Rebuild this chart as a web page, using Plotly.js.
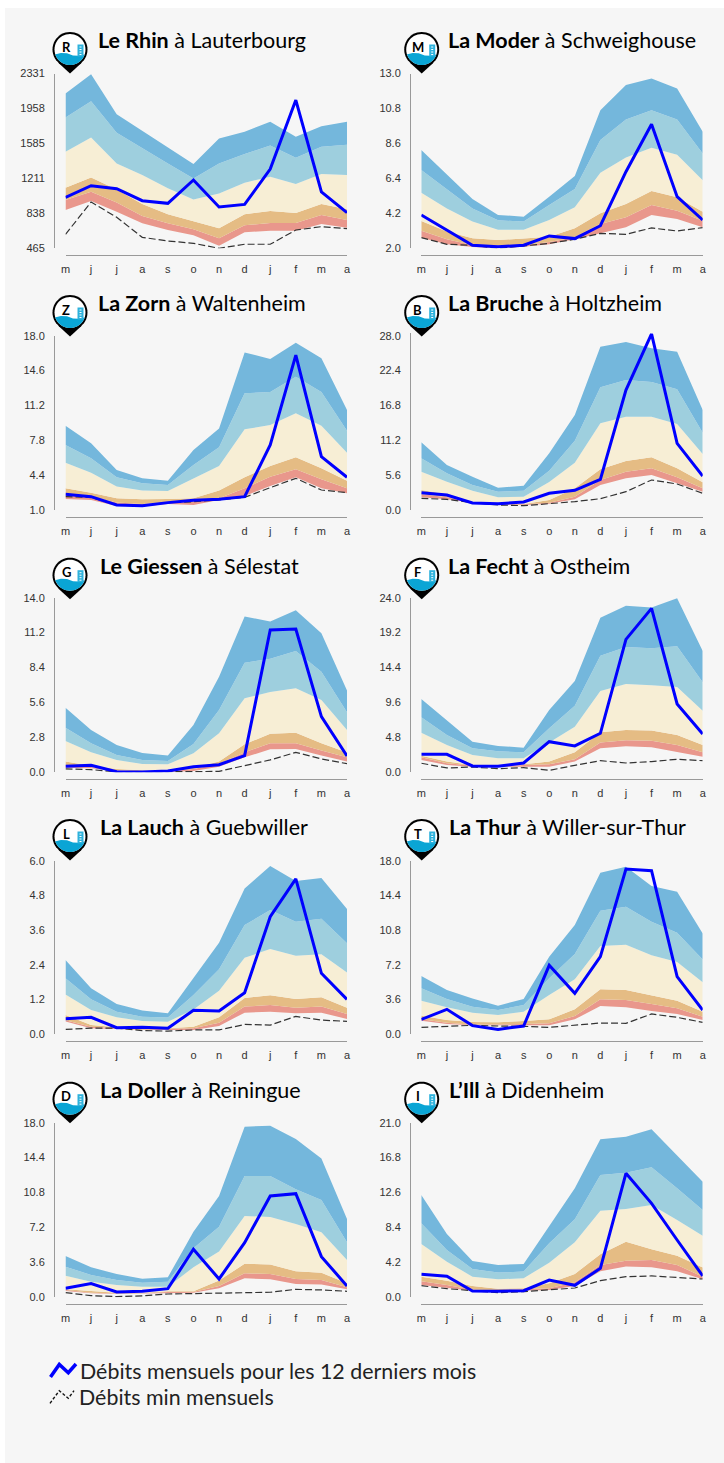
<!DOCTYPE html>
<html>
<head>
<meta charset="utf-8">
<script src="https://cdn.plot.ly/plotly-3.0.1.min.js"></script>
<style>html,body{margin:0;padding:0;background:#fff}#chart{width:724px;height:1463px}</style>
</head>
<body>
<div id="chart"></div>
<script>
const months = ['m','j','j','a','s','o','n','d','j','f','m','a'];

const rhinTicks = [465,838,1211,1585,1958,2331];
const rhinMax = [2118,2324,1897,1720,1542,1364,1638,1709,1816,1656,1769,1816];
const rhinHigh = [1862,2036,1698,1531,1371,1211,1371,1471,1563,1432,1549,1570];
const rhinMid = [1496,1648,1371,1247,1105,987,1051,1165,1229,1151,1258,1247];
const rhinLow = [1112,1222,1094,938,828,753,678,828,863,842,938,881];
const rhinLower = [980,1069,955,810,732,668,572,710,735,735,820,767];
const rhinBase = [874,970,856,732,660,604,493,636,653,653,724,685];
const rhinMin = [614,959,796,582,543,518,465,508,508,660,696,675];
const rhinFlow = [1009,1133,1101,973,945,1194,906,934,1311,2047,1066,845];

const moderTicks = [2.0,4.2,6.4,8.6,10.8,13.0];
const moderMax = [8.18,6.61,5.10,4.10,3.99,5.25,6.55,10.69,12.27,12.68,12.06,9.33];
const moderHigh = [6.92,5.71,4.51,3.76,3.68,4.72,5.73,8.81,10.11,10.69,10.11,7.97];
const moderMid = [5.50,4.51,3.68,3.17,3.17,3.78,4.58,6.76,7.72,8.33,7.89,6.29];
const moderLow = [3.72,3.05,2.63,2.52,2.61,2.73,3.26,4.20,4.79,5.60,5.21,4.30];
const moderLower = [3.11,2.57,2.21,2.15,2.19,2.40,2.69,3.53,3.95,4.72,4.37,3.74];
const moderBase = [2.67,2.25,2.08,2.0,2.10,2.25,2.57,2.94,3.32,4.10,3.84,3.32];
const moderMin = [2.67,2.25,2.19,2.0,2.15,2.31,2.57,2.94,2.88,3.28,3.09,3.30];
const moderFlow = [4.10,3.15,2.19,2.10,2.19,2.78,2.61,3.42,6.82,9.81,5.25,3.78];

const zornTicks = [1.0,4.4,7.8,11.2,14.6,18.0];
const zornMax = [9.22,7.5,4.9,4.09,3.86,6.85,8.96,16.37,15.72,17.32,15.79,10.75];
const zornHigh = [7.34,6.04,4.19,3.6,3.44,5.39,7.11,12.38,12.5,14.0,12.5,8.74];
const zornMid = [5.62,4.64,3.28,2.89,2.85,4.09,5.29,8.87,9.29,10.43,9.22,6.59];
const zornLow = [3.11,2.69,2.14,2.04,2.07,2.14,2.89,4.19,5.29,6.14,5.06,3.86];
const zornLower = [2.46,2.3,1.72,1.59,1.72,1.81,2.14,3.11,4.25,4.97,3.99,3.11];
const zornBase = [2.07,1.98,1.39,1.33,1.59,1.49,1.98,2.37,3.34,4.19,3.11,2.63];
const zornMin = [2.3,2.24,1.49,1.42,1.72,1.81,1.98,2.24,3.18,4.09,2.95,2.69];
const zornFlow = [2.53,2.3,1.49,1.42,1.72,1.94,2.04,2.3,7.34,16.11,6.2,4.19];

const brucheTicks = [0.0,5.6,11.2,16.8,22.4,28.0];
const brucheMax = [10.87,7.23,5.35,3.59,3.91,9.10,15.26,26.23,26.98,25.97,25.43,16.06];
const brucheHigh = [8.30,5.89,4.02,2.94,3.11,6.32,11.14,19.70,20.88,20.56,19.38,12.42];
const brucheMid = [6.16,4.55,3.11,2.03,2.14,4.50,7.60,13.92,14.99,14.99,13.81,8.99];
const brucheLow = [3.21,2.52,1.34,0.96,0.96,1.61,3.48,6.53,7.87,8.46,6.69,4.44];
const brucheLower = [2.57,2.03,1.23,0.91,0.91,1.18,2.14,4.82,6.16,6.69,5.25,3.48];
const brucheBase = [2.03,1.71,1.18,0.80,0.80,1.02,1.71,4.02,5.09,5.62,4.28,2.94];
const brucheMin = [1.87,1.71,1.18,0.80,0.70,0.96,1.34,1.82,2.94,4.82,4.18,2.68];
const brucheFlow = [2.78,2.41,1.12,1.02,1.28,2.68,3.16,4.93,19.27,28.3,10.71,5.46];

const giessenTicks = [0.0,2.8,5.6,8.4,11.2,14.0];
const giessenMax = [5.18,3.39,2.19,1.55,1.34,3.79,7.67,12.50,12.10,12.99,11.14,6.55];
const giessenHigh = [3.58,2.32,1.39,0.99,0.91,2.27,5.00,8.79,9.11,9.73,8.07,4.81];
const giessenMid = [2.51,1.60,0.99,0.67,0.64,1.52,3.13,5.93,6.44,6.73,5.80,3.39];
const giessenLow = [0.86,0.53,0.27,0.16,0.13,0.37,0.86,2.24,3.10,3.18,2.32,1.58];
const giessenLower = [0.59,0.43,0.16,0.05,0.08,0.27,0.67,1.60,2.32,2.32,1.74,1.20];
const giessenBase = [0.37,0.32,0.11,0.03,0.03,0.11,0.45,1.20,1.84,1.87,1.34,0.86];
const giessenMin = [0.27,0.21,0.05,0.03,0.05,0.05,0.08,0.53,0.99,1.60,1.07,0.69];
const giessenFlow = [0.48,0.56,0.05,0.03,0.11,0.45,0.61,1.34,11.41,11.49,4.46,1.31];

const fechtTicks = [0.0,4.8,9.6,14.4,19.2,24.0];
const fechtMax = [10.08,7.19,4.21,3.62,3.39,8.56,12.55,21.25,22.90,22.67,23.91,16.67];
const fechtHigh = [7.56,5.13,3.30,2.89,2.75,6.05,9.16,16.03,17.22,17.04,17.31,12.37];
const fechtMid = [5.45,3.76,2.38,1.92,1.92,4.12,6.27,11.18,12.14,11.95,11.72,8.47];
const fechtLow = [2.29,1.47,1.01,0.92,1.10,1.47,2.75,5.50,5.82,5.73,5.13,3.76];
const fechtLower = [2.06,1.24,0.92,0.78,1.01,1.10,1.79,4.08,4.40,4.35,3.76,2.75];
const fechtBase = [1.69,1.01,0.78,0.73,0.78,0.78,1.47,3.30,3.57,3.44,2.84,2.15];
const fechtMin = [1.24,0.60,0.73,0.50,0.64,0.27,0.96,1.60,1.28,1.47,1.79,1.60];
const fechtFlow = [2.47,2.47,0.87,0.82,1.28,4.21,3.62,5.36,18.27,22.53,9.39,5.27];

const lauchTicks = [0.0,1.2,2.4,3.6,4.8,6.0];
const lauchMax = [2.56,1.58,1.04,0.81,0.72,1.93,3.16,5.04,5.82,5.30,5.40,4.33];
const lauchHigh = [1.93,1.20,0.77,0.60,0.57,1.35,2.24,3.77,4.29,3.89,3.99,3.14];
const lauchMid = [1.37,0.83,0.58,0.45,0.42,0.85,1.50,2.64,2.94,2.71,2.76,2.13];
const lauchLow = [0.66,0.31,0.23,0.20,0.20,0.25,0.58,1.25,1.34,1.21,1.27,0.91];
const lauchLower = [0.48,0.25,0.20,0.16,0.18,0.20,0.39,0.95,1.00,0.91,0.95,0.69];
const lauchBase = [0.43,0.20,0.17,0.14,0.14,0.14,0.28,0.74,0.77,0.72,0.74,0.52];
const lauchMin = [0.16,0.20,0.20,0.12,0.10,0.14,0.14,0.33,0.31,0.61,0.48,0.44];
const lauchFlow = [0.53,0.58,0.22,0.23,0.20,0.82,0.80,1.43,4.06,5.37,2.10,1.20];

const thurTicks = [0.0,3.6,7.2,10.8,14.4,18.0];
const thurMax = [6.02,4.57,3.70,2.94,3.63,8.03,11.32,16.75,17.38,15.37,14.78,10.45];
const thurHigh = [4.74,3.63,2.84,2.49,3.01,5.78,8.31,12.81,13.22,11.67,10.52,7.75];
const thurMid = [3.46,2.77,2.22,1.97,2.32,4.05,5.68,9.14,9.28,8.17,7.48,5.37];
const thurLow = [1.90,1.45,1.25,1.21,1.35,1.52,2.56,4.64,4.57,3.98,3.46,2.32];
const thurLower = [1.52,1.18,0.97,0.97,1.04,1.11,1.87,3.60,3.53,3.12,2.67,1.80];
const thurBase = [1.38,1.04,0.90,0.87,0.90,0.90,1.52,2.91,2.77,2.39,2.08,1.45];
const thurMin = [0.69,0.83,0.90,0.83,0.80,0.69,0.93,1.14,1.11,2.08,1.73,1.21];
const thurFlow = [1.52,2.56,0.87,0.48,0.83,7.13,4.22,8.03,17.13,16.96,5.95,2.49];

const dollerTicks = [0.0,3.6,7.2,10.8,14.4,18.0];
const dollerMax = [4.26,3.09,2.40,1.92,2.06,6.77,10.44,17.59,17.69,16.32,14.32,8.07];
const dollerHigh = [3.16,2.30,1.79,1.51,1.61,5.05,7.28,12.50,12.50,11.13,10.03,5.67];
const dollerMid = [2.23,1.61,1.27,1.10,1.10,3.09,4.71,8.38,8.28,7.56,6.70,3.85];
const dollerLow = [0.82,0.62,0.48,0.48,0.62,0.62,1.72,3.47,3.37,2.68,2.54,1.44];
const dollerLower = [0.76,0.48,0.38,0.41,0.55,0.55,1.17,2.47,2.40,1.89,1.79,1.03];
const dollerBase = [0.65,0.41,0.34,0.38,0.48,0.48,0.93,1.96,1.85,1.37,1.31,0.82];
const dollerMin = [0.48,0.17,0.07,0.14,0.34,0.38,0.48,0.48,0.52,0.82,0.76,0.62];
const dollerFlow = [0.93,1.41,0.55,0.62,0.89,4.95,1.89,5.63,10.44,10.68,4.19,1.17];

const illTicks = [0.0,4.2,8.4,12.6,16.8,21.0];
const illMax = [12.30,7.62,4.37,3.89,4.01,8.50,13.11,19.00,19.32,20.20,16.99,13.91];
const illHigh = [8.90,5.69,3.41,2.97,3.09,6.49,9.38,14.71,14.99,15.63,13.11,10.50];
const illMid = [6.41,4.29,2.48,2.16,2.28,4.17,6.61,10.42,10.62,11.10,9.30,7.41];
const illLow = [2.48,2.00,1.36,1.04,1.08,1.68,2.81,5.17,6.69,5.77,5.01,3.57];
const illLower = [1.92,1.48,0.92,0.84,0.96,1.08,1.80,3.89,4.41,4.49,3.89,2.48];
const illBase = [1.48,1.16,0.80,0.72,0.80,0.88,1.36,3.13,3.69,3.61,3.13,2.16];
const illMin = [1.40,1.04,0.80,0.56,0.68,0.88,1.12,2.00,2.48,2.57,2.40,2.20];
const illFlow = [2.77,2.53,0.76,0.72,0.80,2.08,1.44,3.49,14.91,11.30,6.89,2.57];

const stations = [
 {river:'Le Rhin', place:'Lauterbourg', letter:'R', col:0,row:0, tx:98.5, ticks:rhinTicks, fmt:0, s:[rhinBase,rhinLower,rhinLow,rhinMid,rhinHigh,rhinMax], min:rhinMin, flow:rhinFlow},
 {river:'La Moder', place:'Schweighouse', letter:'M', col:1,row:0, tx:448.7, ticks:moderTicks, fmt:1, s:[moderBase,moderLower,moderLow,moderMid,moderHigh,moderMax], min:moderMin, flow:moderFlow},
 {river:'La Zorn', place:'Waltenheim', letter:'Z', col:0,row:1, tx:98.5, ticks:zornTicks, fmt:1, s:[zornBase,zornLower,zornLow,zornMid,zornHigh,zornMax], min:zornMin, flow:zornFlow},
 {river:'La Bruche', place:'Holtzheim', letter:'B', col:1,row:1, tx:448.7, ticks:brucheTicks, fmt:1, axisTop:28.4, s:[brucheBase,brucheLower,brucheLow,brucheMid,brucheHigh,brucheMax], min:brucheMin, flow:brucheFlow},
 {river:'Le Giessen', place:'Sélestat', letter:'G', col:0,row:2, tx:100.7, ticks:giessenTicks, fmt:1, s:[giessenBase,giessenLower,giessenLow,giessenMid,giessenHigh,giessenMax], min:giessenMin, flow:giessenFlow},
 {river:'La Fecht', place:'Ostheim', letter:'F', col:1,row:2, tx:448.7, ticks:fechtTicks, fmt:1, s:[fechtBase,fechtLower,fechtLow,fechtMid,fechtHigh,fechtMax], min:fechtMin, flow:fechtFlow},
 {river:'La Lauch', place:'Guebwiller', letter:'L', col:0,row:3, tx:100.7, ticks:lauchTicks, fmt:1, s:[lauchBase,lauchLower,lauchLow,lauchMid,lauchHigh,lauchMax], min:lauchMin, flow:lauchFlow},
 {river:'La Thur', place:'Willer-sur-Thur', letter:'T', col:1,row:3, tx:449.7, ticks:thurTicks, fmt:1, s:[thurBase,thurLower,thurLow,thurMid,thurHigh,thurMax], min:thurMin, flow:thurFlow},
 {river:'La Doller', place:'Reiningue', letter:'D', col:0,row:4, tx:100.7, ticks:dollerTicks, fmt:1, s:[dollerBase,dollerLower,dollerLow,dollerMid,dollerHigh,dollerMax], min:dollerMin, flow:dollerFlow},
 {river:'L’Ill', place:'Didenheim', letter:'I', col:1,row:4, tx:449.7, ticks:illTicks, fmt:1, s:[illBase,illLower,illLow,illMid,illHigh,illMax], min:illMin, flow:illFlow}
];

const W = 724, H = 1463;
const fx = p => p / W, fy = p => 1 - p / H;
const bandColors = ['#e9978c','#e5bc84','#f7eed5','#9ecfde','#74b7dc'];
const colGeom = [{l:65.5,r:347,ax:54,pin:70},{l:421.3,r:702.7,ax:410,pin:421.7}];
const rowGeom = [
 {top:73.5,bot:248.3,axis:255,title:39.5,pinTop:32},
 {top:335.7,bot:510,axis:517,title:302.8,pinTop:295},
 {top:597.7,bot:772.3,axis:779,title:565.5,pinTop:557.7},
 {top:860.7,bot:1034,axis:1041,title:826.5,pinTop:819},
 {top:1122.7,bot:1297.3,axis:1304,title:1089.5,pinTop:1081.7}
];
const poly = pts => 'M' + pts.map(p => fx(p[0]) + ',' + fy(p[1])).join('L') + 'Z';
const arc = (cx,cy,r,a0,a1,n) => Array.from({length:n+1},(_,i)=>{const a=(a0+(a1-a0)*i/n)*Math.PI/180;return [cx+r*Math.cos(a),cy+r*Math.sin(a)];});
const filled = (path,color) => ({type:'path',xref:'paper',yref:'paper',path,fillcolor:color,line:{width:0},layer:'above'});

const data = [];
const layout = {
 width:W, height:H, margin:{l:0,r:0,t:0,b:0}, showlegend:false,
 paper_bgcolor:'#ffffff', plot_bgcolor:'rgba(0,0,0,0)', hovermode:false,
 font:{family:'"Liberation Sans", Arial, sans-serif', size:11, color:'#333'},
 shapes:[{type:'rect',xref:'paper',yref:'paper',x0:fx(5),x1:1,y0:0,y1:fy(8),fillcolor:'#f6f6f6',line:{width:0},layer:'below'}],
 annotations:[]
};
const xs = months.map((_,i)=>i);

stations.forEach((st,i)=>{
 const c = colGeom[st.col], r = rowGeom[st.row], n = i===0?'':String(i+1);
 const xa='xaxis'+n, ya='yaxis'+n, xr='x'+n, yr='y'+n;
 st.s.forEach((vals,k)=>{
  data.push({x:xs,y:vals,xaxis:xr,yaxis:yr,type:'scatter',mode:'lines',line:{width:0,color:k?bandColors[k-1]:'#f6f6f6'},fill:k?'tonexty':'none',fillcolor:k?bandColors[k-1]:undefined,hoverinfo:'skip'});
 });
 data.push({x:xs,y:st.min,xaxis:xr,yaxis:yr,type:'scatter',mode:'lines',cliponaxis:false,line:{width:1.2,color:'#333',dash:'7px,3px'},hoverinfo:'skip'});
 data.push({x:xs,y:st.flow,xaxis:xr,yaxis:yr,type:'scatter',mode:'lines',cliponaxis:false,line:{width:3,color:'#0000ff'},hoverinfo:'skip'});
 const yMin = st.ticks[0], yTick = st.ticks[5], yTop = st.axisTop || yTick;
 const pxTop = r.bot - (r.bot - r.top) * (yTop - yMin) / (yTick - yMin);
 layout[xa]={domain:[fx(c.l),fx(c.r)],range:[0,11],anchor:'free',position:fy(r.axis),showgrid:false,zeroline:false,showline:true,linecolor:'#999',linewidth:1,
  tickmode:'array',tickvals:xs,ticktext:months,ticks:'outside',ticklen:4,tickcolor:'rgba(0,0,0,0)',tickfont:{size:11,color:'#333'},fixedrange:true};
 layout[ya]={domain:[fy(r.bot),fy(pxTop)],range:[yMin,yTop],anchor:'free',position:fx(c.ax),showgrid:false,zeroline:false,showline:true,linecolor:'#999',linewidth:1,
  tickmode:'array',tickvals:st.ticks,ticktext:st.ticks.map(v=>v.toFixed(st.fmt)),ticks:'outside',ticklen:7,tickcolor:'rgba(0,0,0,0)',tickfont:{size:11,color:'#333'},fixedrange:true};
 layout.annotations.push({xref:'paper',yref:'paper',x:fx(st.tx-3),y:fy(r.title),xanchor:'left',yanchor:'middle',showarrow:false,
  text:'<b>'+st.river+'</b> à '+st.place,font:{family:'Lato',size:21.5,color:'#000'}});
 const cx=c.pin, cy=r.pinTop+17.5;
 layout.shapes.push(filled(poly([[cx-12,cy+13],[cx+12,cy+13],[cx,cy+24]]),'#000'));
 layout.shapes.push(filled(poly(arc(cx,cy,17.5,0,360,48)),'#000'));
 layout.shapes.push(filled(poly(arc(cx,cy,15.5,0,360,48)),'#fff'));
 layout.shapes.push(filled(poly([[cx-15.2,cy+5],[cx-9,cy+3.5],[cx-3,cy+3.8],[cx+3,cy+6],[cx+9,cy+6.2],[cx+14.7,cy+5]].concat(arc(cx,cy,15.5,20,160,20))),'#0aa5d5'));
 layout.shapes.push(filled(poly([[cx+7.5,cy-5],[cx+13.5,cy-5],[cx+13.5,cy+7],[cx+7.5,cy+7]]),'#2fb2dc'));
 [-3,-0.5,2,4.5].forEach(d=>layout.shapes.push(filled(poly([[cx+9.5,cy+d],[cx+11.5,cy+d],[cx+11.5,cy+d+1],[cx+9.5,cy+d+1]]),'#fff')));
 layout.annotations.push({xref:'paper',yref:'paper',x:fx(cx-4),y:fy(cy-3),xanchor:'center',yanchor:'middle',showarrow:false,
  text:'<b>'+st.letter+'</b>',font:{family:'Lato',size:13,color:'#000'}});
});

const pathOf = pts => 'M' + pts.map(p => fx(p[0]) + ',' + fy(p[1])).join('L');
layout.shapes.push({type:'path',xref:'paper',yref:'paper',path:pathOf([[50.5,1377],[59.3,1364.5],[68.3,1372.7],[76,1364]]),line:{color:'#0000ff',width:3.5},layer:'above'});
layout.shapes.push({type:'path',xref:'paper',yref:'paper',path:pathOf([[50,1403.3],[59.3,1390.7],[68.3,1398.3],[74,1390.7]]),line:{color:'#111',width:1.4,dash:'3px,2px'},layer:'above'});
layout.annotations.push({xref:'paper',yref:'paper',x:fx(78),y:fy(1371),xanchor:'left',yanchor:'middle',showarrow:false,text:'Débits mensuels pour les 12 derniers mois',font:{family:'Lato',size:21.4,color:'#222'}});
layout.annotations.push({xref:'paper',yref:'paper',x:fx(76.5),y:fy(1397),xanchor:'left',yanchor:'middle',showarrow:false,text:'Débits min mensuels',font:{family:'Lato',size:21.4,color:'#222'}});

Plotly.newPlot('chart',data,layout,{displayModeBar:false,staticPlot:true});
</script>
</body>
</html>
